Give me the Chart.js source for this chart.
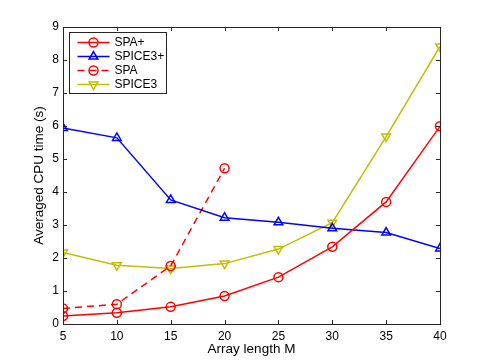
<!DOCTYPE html>
<html><head><meta charset="utf-8">
<script src="https://cdn.jsdelivr.net/npm/chart.js@4.4.0/dist/chart.umd.min.js"></script>
<style>html,body{margin:0;padding:0;background:#fff;}#wrap{width:485px;height:364px;}</style>
</head><body><div id="wrap"><canvas id="c" width="485" height="364"></canvas></div>
<script>
const arrayLengths = [5, 10, 15, 20, 25, 30, 35, 40];
const spaPlus   = [0.24, 0.34, 0.52, 0.85, 1.42, 2.34, 3.70, 5.99];
const spice3Plus= [5.94, 5.64, 3.76, 3.22, 3.08, 2.90, 2.77, 2.29];
const spaLengths = [5, 10, 15, 20];
const spa       = [0.47, 0.60, 1.76, 4.72];
const spice3    = [2.17, 1.78, 1.68, 1.83, 2.27, 3.07, 5.68, 8.41];
const xTicks = [5, 10, 15, 20, 25, 30, 35, 40];
const yTicks = [0, 1, 2, 3, 4, 5, 6, 7, 8, 9];

const FONT = "'Liberation Sans', Arial, sans-serif";
const pts = (xs, ys) => xs.map((x, i) => ({x, y: ys[i]}));

const boxPlugin = {
  id: 'box',
  afterDraw(chart) {
    const {ctx, chartArea: a, scales: {x, y}} = chart;
    ctx.save();
    ctx.strokeStyle = '#262626';
    ctx.lineWidth = 1;
    ctx.strokeRect(Math.round(a.left) + 0.5, Math.round(a.top) + 0.5, Math.round(a.right - a.left), Math.round(a.bottom - a.top));
    ctx.beginPath();
    const tl = 4;
    xTicks.forEach(v => {
      const px = Math.round(x.getPixelForValue(v)) + 0.5;
      ctx.moveTo(px, a.bottom); ctx.lineTo(px, a.bottom - tl);
      ctx.moveTo(px, a.top); ctx.lineTo(px, a.top + tl);
    });
    yTicks.forEach(v => {
      const py = Math.round(y.getPixelForValue(v)) + 0.5;
      ctx.moveTo(a.left, py); ctx.lineTo(a.left + tl, py);
      ctx.moveTo(a.right, py); ctx.lineTo(a.right - tl, py);
    });
    ctx.stroke();
    // legend
    const lx = a.left + 6.5, ly = a.top + 5.5, lw = 97, lh = 61;
    ctx.fillStyle = '#fff';
    ctx.fillRect(lx, ly, lw, lh);
    ctx.strokeStyle = '#262626';
    ctx.strokeRect(lx, ly, lw, lh);
    ctx.font = '12px ' + FONT;
    ctx.textBaseline = 'middle';
    chart.data.datasets.forEach((ds, i) => {
      const cy = ly + 10 + i * 14;
      ctx.strokeStyle = ds.borderColor;
      ctx.lineWidth = ds.borderWidth;
      ctx.setLineDash(ds.borderDash || []);
      ctx.beginPath(); ctx.moveTo(lx + 8, cy); ctx.lineTo(lx + 40, cy); ctx.stroke();
      ctx.setLineDash([]);
      ctx.fillStyle = 'rgba(0,0,0,0)';
      ctx.strokeStyle = ds.borderColor;
      Chart.helpers.drawPoint(ctx, {pointStyle: ds.pointStyle, radius: ds.pointRadius, rotation: ds.pointRotation || 0, borderWidth: ds.borderWidth}, lx + 24, cy);
      ctx.fillStyle = '#000';
      ctx.fillText(ds.label, lx + 45, cy + 0.5);
    });
    ctx.restore();
  }
};

new Chart(document.getElementById('c'), {
  type: 'line',
  data: {
    datasets: [
      {label: 'SPA+', data: pts(arrayLengths, spaPlus), borderColor: '#ff0000', pointBorderColor: '#ff0000', pointStyle: 'circle', pointRadius: 4.5, borderWidth: 1.5},
      {label: 'SPICE3+', data: pts(arrayLengths, spice3Plus), borderColor: '#0000ff', pointBorderColor: '#0000ff', pointStyle: 'triangle', pointRadius: 5, borderWidth: 1.5},
      {label: 'SPA', data: pts(spaLengths, spa), borderColor: '#ff0000', pointBorderColor: '#ff0000', borderDash: [7, 5], pointStyle: 'circle', pointRadius: 4.5, borderWidth: 1.5},
      {label: 'SPICE3', data: pts(arrayLengths, spice3), borderColor: '#bfbf00', pointBorderColor: '#bfbf00', pointStyle: 'triangle', pointRotation: 180, pointRadius: 5, borderWidth: 1.5}
    ]
  },
  options: {
    responsive: false,
    animation: false,
    devicePixelRatio: 1,
    datasets: {line: {pointBackgroundColor: 'rgba(0,0,0,0)', fill: false, tension: 0, pointBorderWidth: 1.5}},
    layout: {padding: {top: 27, right: 45, left: 31, bottom: 7}},
    plugins: {legend: {display: false}, tooltip: {enabled: false}},
    scales: {
      x: {
        type: 'linear', min: 5, max: 40,
        afterBuildTicks: s => { s.ticks = xTicks.map(v => ({value: v})); },
        afterFit: s => { s.height = 33; },
        grid: {display: false, drawTicks: false}, border: {display: false},
        ticks: {padding: 5, color: '#000', font: {family: FONT, size: 12}, maxRotation: 0},
        title: {display: true, text: 'Array length M', color: '#000', font: {family: FONT, size: 13.5}, padding: {top: 0, bottom: 0}}
      },
      y: {
        min: 0, max: 9,
        afterBuildTicks: s => { s.ticks = yTicks.map(v => ({value: v})); },
        afterFit: s => { s.width = 32; },
        grid: {display: false, drawTicks: false}, border: {display: false},
        ticks: {padding: 4, color: '#000', font: {family: FONT, size: 12}},
        title: {display: true, text: 'Averaged CPU time (s)', color: '#000', font: {family: FONT, size: 13.5}, padding: {top: 0, bottom: 0}}
      }
    }
  },
  plugins: [boxPlugin]
});
</script>
</body></html>
